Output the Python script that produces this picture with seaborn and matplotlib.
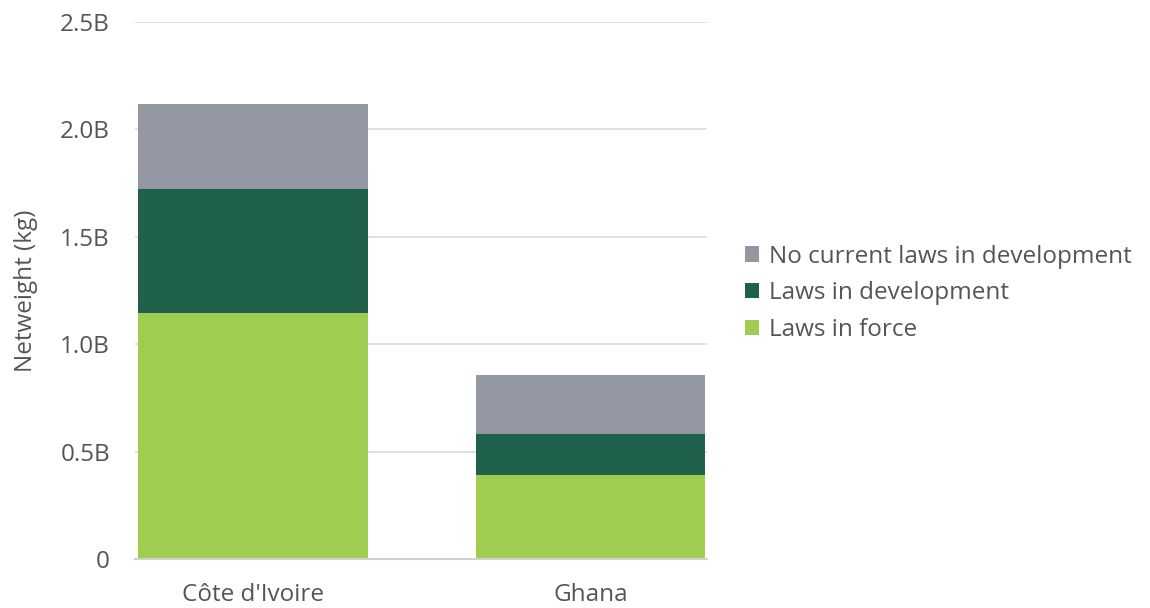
import matplotlib
matplotlib.use("Agg")
import matplotlib.pyplot as plt
import seaborn as sns
import pandas as pd
import numpy as np
from matplotlib.patches import Patch
from matplotlib.ticker import FuncFormatter

countries = ["Côte d'Ivoire", "Ghana"]
laws_in_force = [1.145, 0.391]
laws_in_development = [0.577, 0.191]
no_current_laws = [0.396, 0.275]

series_names = ["No current laws in development", "Laws in development", "Laws in force"]
colors = {"Laws in force": "#a0cd4f", "Laws in development": "#1f614a",
          "No current laws in development": "#9498a2"}

sns.set_theme(style="white")
plt.rcParams['font.family'] = ['Open Sans', 'DejaVu Sans']
text_color = "#555555"
fs = 17.5

fig = plt.figure(figsize=(11.5, 6.08), dpi=100)
ax = fig.add_axes([0.1174, 0.0806, 0.4974, 0.8832])

df = pd.DataFrame({"country": countries,
                   "force": laws_in_force,
                   "dev": laws_in_development,
                   "none": no_current_laws})
df["c1"] = df["force"]
df["c2"] = df["force"] + df["dev"]
df["c3"] = df["c2"] + df["none"]

for col, name in [("c3", "No current laws in development"),
                  ("c2", "Laws in development"),
                  ("c1", "Laws in force")]:
    sns.barplot(data=df, x="country", y=col, color=colors[name], width=0.68,
                saturation=1, ax=ax, zorder=3, linewidth=0, edgecolor="none")

ax.set_xlim(-0.35, 1.345)
ax.set_ylim(0, 2.5)
ax.set_yticks(np.arange(0, 2.51, 0.5))
ax.yaxis.set_major_formatter(FuncFormatter(lambda v, p: "0" if v == 0 else f"{v:.1f}B"))
ax.grid(axis="y", color="#dcdcdc", linewidth=1.2, zorder=0)
for s in ["top", "right", "left"]:
    ax.spines[s].set_visible(False)
ax.spines["bottom"].set_color("#d0d0d0")
ax.spines["bottom"].set_linewidth(1.5)
ax.spines["bottom"].set_zorder(4)
ax.tick_params(axis="y", length=0, pad=18, labelsize=fs, labelcolor=text_color)
ax.tick_params(axis="x", length=0, pad=17, labelsize=fs, labelcolor=text_color)
ax.set_xlabel("")
ax.set_ylabel("Netweight (kg)", fontsize=fs, color=text_color, labelpad=16)

handles = [Patch(facecolor=colors[n], edgecolor="none", label=n) for n in series_names]
ax.legend(handles=handles, loc="center left", bbox_to_anchor=(1.066, 0.495),
          frameon=False, fontsize=fs, labelcolor=text_color, handlelength=0.58,
          handleheight=0.58, handletextpad=0.42, labelspacing=0.52,
          borderpad=0, borderaxespad=0)

fig.savefig("out.png", dpi=100)
